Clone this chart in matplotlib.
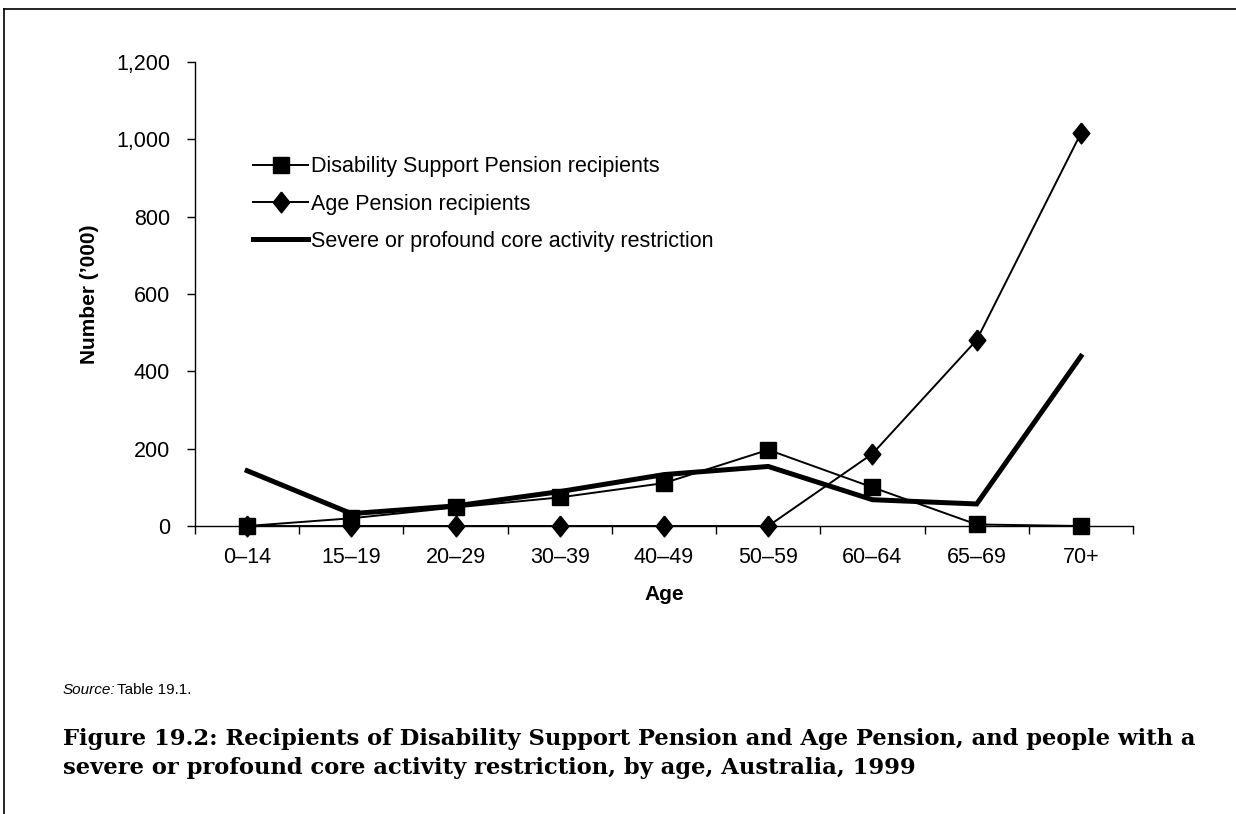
import matplotlib
matplotlib.use("Agg")
import matplotlib.pyplot as plt
from matplotlib.lines import Line2D
from matplotlib.ticker import FuncFormatter

plt.rcParams['font.family'] = ['Liberation Sans', 'DejaVu Sans']

ages = ["0\u201314", "15\u201319", "20\u201329", "30\u201339", "40\u201349",
        "50\u201359", "60\u201364", "65\u201369", "70+"]
dsp = [0, 20, 48, 74, 111, 197, 100, 4, 0]
age_pension = [0, 0, 0, 0, 0, 0, 187, 481, 1016]
severe = [143, 32, 52, 89, 133, 154, 68, 57, 439]

# wider diamond than matplotlib's 'd'
diamond = [(0, 1), (0.8, 0), (0, -1), (-0.8, 0), (0, 1)]

fig = plt.figure(figsize=(12.36, 8.14), dpi=100)
ax = fig.add_axes([0.1578, 0.3538, 0.7589, 0.57])

x = list(range(len(ages)))
ax.plot(x, dsp, color="black", lw=1.4, marker="s", ms=11, clip_on=False,
        label="Disability Support Pension recipients", zorder=3)
ax.plot(x, age_pension, color="black", lw=1.4, marker=diamond, ms=15, clip_on=False,
        label="Age Pension recipients", zorder=3)
ax.plot(x, severe, color="black", lw=3.6, solid_joinstyle="miter", clip_on=False,
        label="Severe or profound core activity restriction", zorder=2)

ax.set_xlim(-0.5, len(ages) - 0.5)
ax.set_ylim(0, 1200)
ax.set_yticks(range(0, 1201, 200))
ax.yaxis.set_major_formatter(FuncFormatter(lambda v, p: f"{int(v):,}"))
ax.set_xticks(x)
ax.set_xticklabels(ages)
ax.set_xticks([i - 0.5 for i in range(len(ages) + 1)], minor=True)
ax.tick_params(axis="x", which="major", length=0, pad=15, labelsize=15.5)
ax.tick_params(axis="x", which="minor", length=6, width=1, direction="out")
ax.tick_params(axis="y", length=6, width=1, labelsize=15.5, pad=12)
for s in ["top", "right"]:
    ax.spines[s].set_visible(False)
ax.spines["left"].set_linewidth(1)
ax.spines["bottom"].set_linewidth(1)

ax.set_xlabel("Age", fontsize=15, fontweight="bold", labelpad=12)
ax.set_ylabel("Number (\u2019000)", fontsize=15, fontweight="bold", labelpad=12)

ax.legend(loc="upper left", bbox_to_anchor=(0.053, 0.815), frameon=False,
          fontsize=15.5, handlelength=2.55, handletextpad=0.15, labelspacing=0.75,
          borderaxespad=0)

# page frame
fig.add_artist(Line2D([4 / 1236, 1], [1 - 9 / 814, 1 - 9 / 814], color="black", lw=1.2))
fig.add_artist(Line2D([4 / 1236, 4 / 1236], [0, 1 - 9 / 814], color="black", lw=1.2))

fig.text(63 / 1236, 1 - 690 / 814, "Source:", fontsize=11, style="italic", va="center")
fig.text(117 / 1236, 1 - 690 / 814, "Table 19.1.", fontsize=11, va="center")
fig.text(63 / 1236, 1 - 739 / 814,
         "Figure 19.2: Recipients of Disability Support Pension and Age Pension, and people with a",
         fontsize=16.3, fontweight="bold", family="DejaVu Serif", va="center")
fig.text(63 / 1236, 1 - 768 / 814,
         "severe or profound core activity restriction, by age, Australia, 1999",
         fontsize=16.3, fontweight="bold", family="DejaVu Serif", va="center")

fig.savefig("out.png", dpi=100)
